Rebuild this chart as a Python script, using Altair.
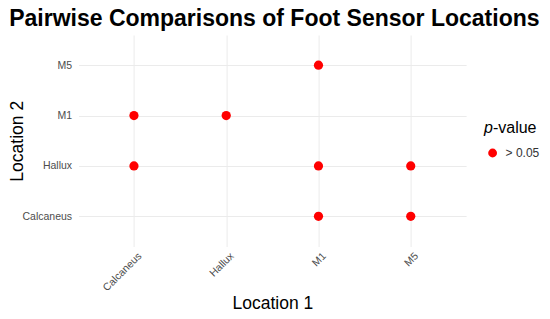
import altair as alt
import pandas as pd

location1 = ["Calcaneus", "Hallux", "M1", "Calcaneus", "M1", "M5", "M1", "M5"]
location2 = ["M1", "M1", "M5", "Hallux", "Hallux", "Hallux", "Calcaneus", "Calcaneus"]
pvalue_class = ["> 0.05"] * 8
order = ["Calcaneus", "Hallux", "M1", "M5"]

df = pd.DataFrame({"Location 1": location1, "Location 2": location2, "p": pvalue_class})

font = "Liberation Sans"
W, H = 387.5, 211.5

points = alt.Chart(df).mark_circle(size=85, opacity=1).encode(
    x=alt.X("Location 1:N", sort=order,
            scale=alt.Scale(type="point", padding=0.6),
            axis=alt.Axis(title="Location 1", labelAngle=-45, labelAlign="right",
                          labelBaseline="top", labelPadding=4, labelOffset=2, grid=True,
                          ticks=False, domain=False, labelColor="#4d4d4d",
                          labelFontSize=10.5, titleFontSize=17.5, titleFontWeight="normal",
                          titleBaseline="alphabetic", titleY=62, titleX=W / 2,
                          titleColor="black")),
    y=alt.Y("Location 2:N", sort=order[::-1],
            scale=alt.Scale(type="point", padding=0.6),
            axis=alt.Axis(title="Location 2", grid=True, ticks=False, domain=False,
                          labelColor="#4d4d4d", labelFontSize=10.5, labelPadding=7,
                          titleFontSize=17.5, titleFontWeight="normal",
                          titleBaseline="alphabetic", titleAngle=-90, titleX=-56,
                          titleY=H / 2, titleColor="black")),
    color=alt.Color("p:N", scale=alt.Scale(range=["#ff0000"]),
                    legend=alt.Legend(title=None, orient="none", legendX=408, legendY=112,
                                      padding=0, labelFontSize=12, labelColor="#333333",
                                      symbolSize=78, symbolType="circle",
                                      symbolOffset=0, labelOffset=7)),
)

legend_title_p = alt.Chart(pd.DataFrame({"t": ["p"]})).mark_text(
    font=font, fontSize=16, fontStyle="italic", align="left", baseline="alphabetic",
    color="black"
).encode(text="t:N", x=alt.value(405.4), y=alt.value(98))

legend_title_rest = alt.Chart(pd.DataFrame({"t": ["-value"]})).mark_text(
    font=font, fontSize=16, align="left", baseline="alphabetic", color="black"
).encode(text="t:N", x=alt.value(414.3), y=alt.value(98))

chart = alt.layer(points, legend_title_p, legend_title_rest).properties(
    width=W, height=H,
    title=alt.Title("Pairwise Comparisons of Foot Sensor Locations", fontSize=23,
                    fontWeight="bold", anchor="middle", color="black", offset=4, dx=2),
    autosize=alt.AutoSizeParams(type="none"),
    padding={"left": 70.6, "top": 27, "right": 75.9, "bottom": 64},
).configure(font=font).configure_view(
    stroke="transparent", strokeWidth=0
).configure_axis(gridColor="#ebebeb", gridWidth=1)

chart.save("out.html", embed_options={"renderer": "svg", "actions": False})
